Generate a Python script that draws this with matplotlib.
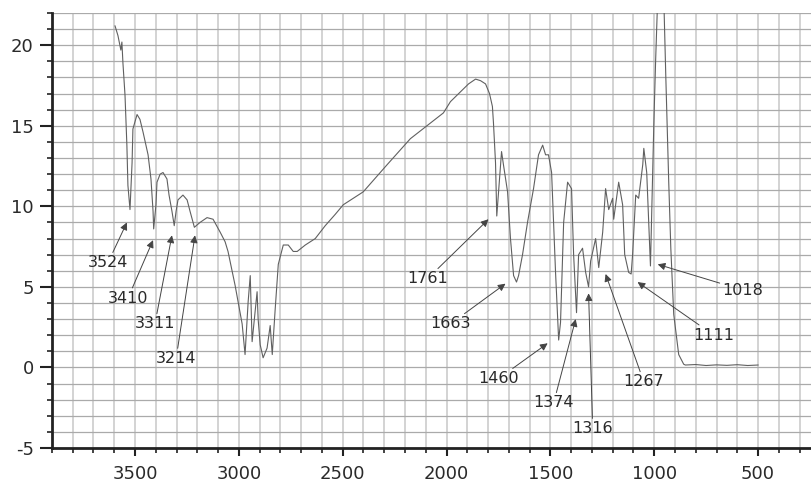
import matplotlib.pyplot as plt
from matplotlib.ticker import MultipleLocator

plt.rcParams['font.family'] = ['DejaVu Sans']
plt.rcParams['axes.unicode_minus'] = False

# IR spectrum trace: wavenumber (cm-1) vs transmittance
wavenumber = [3596, 3582, 3568, 3563, 3558, 3548, 3539, 3534, 3524, 3514,
              3510, 3490, 3476, 3461, 3437, 3423, 3413, 3410, 3399, 3394,
              3379, 3365, 3346, 3336, 3322, 3311, 3302, 3293, 3269, 3249,
              3235, 3220, 3214, 3187, 3153, 3124, 3090, 3066, 3052, 3018,
              2984, 2970, 2955, 2945, 2936, 2912, 2907, 2897, 2883, 2864,
              2849, 2839, 2825, 2810, 2786, 2762, 2738, 2719, 2680, 2632,
              2584, 2536, 2497, 2401, 2285, 2174, 2015, 1981, 1918, 1894,
              1860, 1836, 1812, 1793, 1779, 1774, 1764, 1758, 1735, 1726,
              1706, 1692, 1677, 1663, 1653, 1634, 1610, 1581, 1557, 1537,
              1523, 1509, 1494, 1489, 1475, 1460, 1451, 1436, 1417, 1398,
              1388, 1374, 1364, 1345, 1330, 1316, 1306, 1282, 1267, 1248,
              1234, 1219, 1200, 1195, 1171, 1152, 1142, 1123, 1111, 1104,
              1089, 1075, 1055, 1050, 1036, 1018, 1002, 993, 983, 954,
              944, 930, 920, 906, 882, 858, 850, 800, 750, 700,
              650, 600, 550, 500]
transmittance = [21.2, 20.6, 19.7, 20.2, 18.9, 16.9, 13.8, 11.3, 9.8, 12.7,
                 14.8, 15.7, 15.4, 14.6, 13.2, 11.7, 9.7, 8.6, 10.1, 11.5,
                 12.0, 12.1, 11.7, 10.7, 9.7, 8.8, 9.7, 10.4, 10.7, 10.4,
                 9.7, 9.0, 8.7, 9.0, 9.3, 9.2, 8.4, 7.8, 7.2, 5.1,
                 2.7, 0.8, 4.1, 5.7, 1.6, 4.7, 3.0, 1.4, 0.6, 1.2,
                 2.6, 0.8, 3.6, 6.4, 7.6, 7.6, 7.2, 7.2, 7.6, 8.0,
                 8.8, 9.5, 10.1, 10.9, 12.6, 14.2, 15.8, 16.5, 17.3, 17.6,
                 17.9, 17.8, 17.6, 17.0, 16.2, 15.2, 12.7, 9.4, 13.4, 12.6,
                 10.9, 8.0, 5.7, 5.3, 5.7, 7.0, 9.0, 11.1, 13.2, 13.8,
                 13.2, 13.2, 12.1, 10.5, 5.9, 1.7, 2.8, 9.0, 11.5, 11.1,
                 7.0, 3.4, 7.0, 7.4, 5.9, 5.0, 6.6, 8.0, 6.2, 8.4,
                 11.1, 9.8, 10.5, 9.2, 11.5, 10.1, 7.0, 5.9, 5.8, 7.0,
                 10.7, 10.5, 12.6, 13.6, 12.1, 6.3, 15.0, 19.1, 23.0, 23.0,
                 18.0, 11.5, 7.4, 3.3, 0.8, 0.2, 0.15, 0.18, 0.12, 0.16,
                 0.13, 0.17, 0.12, 0.15]

# peak labels: label, arrow tip (wn, T), text centre (wn, T)
peak_labels = ['3524', '3410', '3311', '3214', '1761', '1663',
               '1460', '1374', '1316', '1267', '1111', '1018']
tip_wn = [3539, 3413, 3322, 3211, 1798, 1716, 1513, 1378, 1316, 1234, 1080, 983]
tip_t = [9.0, 7.9, 8.2, 8.2, 9.2, 5.2, 1.5, 3.0, 4.6, 5.8, 5.3, 6.4]
text_wn = [3630, 3534, 3404, 3302, 2092, 1981, 1750, 1484, 1296, 1050, 713, 573]
text_t = [6.5, 4.3, 2.7, 0.55, 5.5, 2.7, -0.7, -2.2, -3.8, -0.9, 2.0, 4.8]

fig = plt.figure(figsize=(8.11, 4.83), dpi=100)
ax = fig.add_axes([0.064, 0.0725, 0.936, 0.9005])

ax.plot(wavenumber, transmittance, color='#606060', lw=0.8, zorder=3)

for lab, tx, ty, lx, ly in zip(peak_labels, tip_wn, tip_t, text_wn, text_t):
    ax.annotate(lab, xy=(tx, ty), xytext=(lx, ly), ha='center', va='center',
                fontsize=11.5, color='#2a2a2a', zorder=4,
                arrowprops=dict(arrowstyle='-|>', color='#444444', lw=0.7,
                                mutation_scale=11, shrinkA=0, shrinkB=0))

ax.set_xlim(3900, 245)
ax.set_ylim(-5, 22)
ax.xaxis.set_major_locator(MultipleLocator(500))
ax.xaxis.set_minor_locator(MultipleLocator(100))
ax.yaxis.set_major_locator(MultipleLocator(5))
ax.yaxis.set_minor_locator(MultipleLocator(1))

ax.grid(axis='x', which='both', color='#cccccc', lw=1.2, zorder=0)
ax.grid(axis='y', which='both', color='#aaaaaa', lw=0.9, zorder=0)
ax.set_axisbelow(True)

for side in ['top', 'right']:
    ax.spines[side].set_visible(False)
for side in ['left', 'bottom']:
    ax.spines[side].set_linewidth(2)
    ax.spines[side].set_color('#222222')

ax.tick_params(axis='both', which='major', direction='out', width=1.5,
               color='#222222', labelsize=13, labelcolor='#2a2a2a')
ax.tick_params(axis='x', which='major', length=6, pad=6.5)
ax.tick_params(axis='y', which='major', length=9, pad=4)
ax.tick_params(axis='both', which='minor', direction='out', length=3.5,
               width=1.2, color='#222222')

fig.savefig('out.png', dpi=100)
